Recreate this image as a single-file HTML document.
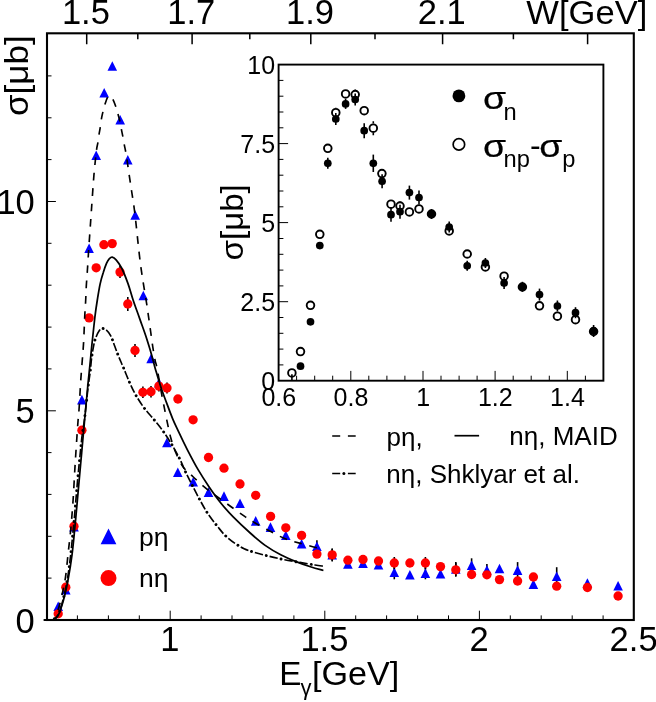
<!DOCTYPE html>
<html><head><meta charset="utf-8"><title>chart</title>
<style>html,body{margin:0;padding:0;background:#fff;overflow:hidden;}svg{display:block;will-change:transform;}</style>
</head><body>
<svg width="656" height="702" viewBox="0 0 656 702">
<rect x="0" y="0" width="656" height="702" fill="#fff"/>
<g stroke="#000" stroke-width="1.6"><path d="M316.9 540.2V552.2"/><path d="M332.2 548.7V560.7"/><path d="M394.3 565.3V579.3"/><path d="M425.4 567.3V579.3"/><path d="M455.8 562.0V576.0"/><path d="M471.6 558.3V572.3"/><path d="M486.9 564.0V576.0"/><path d="M517.6 562.1V578.1"/><path d="M556.7 567.2V585.2"/></g>
<g fill="#0000ff"><path d="M58.2 601.5L63.0 611.1H53.4Z"/><path d="M65.8 584.9L70.6 594.5H61.0Z"/><path d="M74.0 521.8L78.8 531.4H69.2Z"/><path d="M81.9 394.8L86.7 404.4H77.1Z"/><path d="M89.1 243.5L93.9 253.1H84.3Z"/><path d="M96.2 150.4L101.0 160.0H91.4Z"/><path d="M104.2 88.0L109.0 97.6H99.4Z"/><path d="M112.3 61.2L117.1 70.8H107.5Z"/><path d="M120.2 115.0L125.0 124.6H115.4Z"/><path d="M127.8 154.9L132.6 164.5H123.0Z"/><path d="M135.2 210.2L140.0 219.8H130.4Z"/><path d="M143.3 290.7L148.1 300.3H138.5Z"/><path d="M151.1 353.7L155.9 363.3H146.3Z"/><path d="M158.9 377.9L163.7 387.5H154.1Z"/><path d="M166.9 437.7L171.7 447.3H162.1Z"/><path d="M177.8 467.5L182.6 477.1H173.0Z"/><path d="M193.2 477.0L198.0 486.6H188.4Z"/><path d="M208.5 487.3L213.3 496.9H203.7Z"/><path d="M224.0 491.3L228.8 500.9H219.2Z"/><path d="M240.0 498.4L244.8 508.0H235.2Z"/><path d="M255.7 516.1L260.5 525.7H250.9Z"/><path d="M270.5 522.3L275.3 531.9H265.7Z"/><path d="M285.8 530.5L290.6 540.1H281.0Z"/><path d="M301.6 538.9L306.4 548.5H296.8Z"/><path d="M316.9 541.4L321.7 551.0H312.1Z"/><path d="M332.2 549.9L337.0 559.5H327.4Z"/><path d="M347.9 559.2L352.7 568.8H343.1Z"/><path d="M363.0 558.5L367.8 568.1H358.2Z"/><path d="M378.5 560.0L383.3 569.6H373.7Z"/><path d="M394.3 567.5L399.1 577.1H389.5Z"/><path d="M409.9 570.0L414.7 579.6H405.1Z"/><path d="M425.4 568.5L430.2 578.1H420.6Z"/><path d="M440.5 569.0L445.3 578.6H435.7Z"/><path d="M455.8 564.2L460.6 573.8H451.0Z"/><path d="M471.6 560.5L476.4 570.1H466.8Z"/><path d="M486.9 565.2L491.7 574.8H482.1Z"/><path d="M499.5 563.7L504.3 573.3H494.7Z"/><path d="M517.6 565.3L522.4 574.9H512.8Z"/><path d="M533.4 579.3L538.2 588.9H528.6Z"/><path d="M556.7 571.4L561.5 581.0H551.9Z"/><path d="M587.4 578.2L592.2 587.8H582.6Z"/><path d="M618.1 580.9L622.9 590.5H613.3Z"/></g>
<g stroke="#000" stroke-width="1.6"><path d="M120.0 266.1V278.1"/><path d="M127.8 297.0V311.0"/><path d="M135.0 344.0V357.0"/><path d="M142.9 386.5V398.1"/><path d="M151.0 385.9V397.5"/><path d="M158.9 380.6V391.6"/><path d="M167.0 382.5V393.5"/><path d="M332.2 548.4V561.4"/><path d="M394.3 557.0V569.0"/><path d="M425.4 557.0V569.0"/><path d="M455.8 562.8V576.8"/></g>
<g fill="#ff0000"><circle cx="58.2" cy="613.8" r="4.65"/><circle cx="65.8" cy="587.2" r="4.65"/><circle cx="74.0" cy="526.2" r="4.65"/><circle cx="81.9" cy="430.2" r="4.65"/><circle cx="89.1" cy="317.9" r="4.65"/><circle cx="96.2" cy="267.8" r="4.65"/><circle cx="103.9" cy="244.7" r="4.65"/><circle cx="112.2" cy="243.6" r="4.65"/><circle cx="120.0" cy="272.1" r="4.65"/><circle cx="127.8" cy="304.0" r="4.65"/><circle cx="135.0" cy="350.5" r="4.65"/><circle cx="142.9" cy="392.3" r="4.65"/><circle cx="151.0" cy="391.7" r="4.65"/><circle cx="158.9" cy="386.1" r="4.65"/><circle cx="167.0" cy="388.0" r="4.65"/><circle cx="177.9" cy="399.0" r="4.65"/><circle cx="193.1" cy="419.8" r="4.65"/><circle cx="208.5" cy="457.5" r="4.65"/><circle cx="224.0" cy="468.2" r="4.65"/><circle cx="240.0" cy="484.0" r="4.65"/><circle cx="255.7" cy="495.3" r="4.65"/><circle cx="270.6" cy="516.4" r="4.65"/><circle cx="285.8" cy="527.8" r="4.65"/><circle cx="301.6" cy="535.4" r="4.65"/><circle cx="316.9" cy="554.1" r="4.65"/><circle cx="332.2" cy="554.9" r="4.65"/><circle cx="347.9" cy="560.2" r="4.65"/><circle cx="363.0" cy="559.5" r="4.65"/><circle cx="378.5" cy="561.0" r="4.65"/><circle cx="394.3" cy="563.0" r="4.65"/><circle cx="409.9" cy="563.0" r="4.65"/><circle cx="425.4" cy="563.0" r="4.65"/><circle cx="440.5" cy="566.6" r="4.65"/><circle cx="455.8" cy="569.8" r="4.65"/><circle cx="471.6" cy="574.5" r="4.65"/><circle cx="486.9" cy="574.8" r="4.65"/><circle cx="499.5" cy="579.6" r="4.65"/><circle cx="517.6" cy="581.0" r="4.65"/><circle cx="533.4" cy="577.0" r="4.65"/><circle cx="556.7" cy="586.2" r="4.65"/><circle cx="587.4" cy="587.5" r="4.65"/><circle cx="618.1" cy="596.0" r="4.65"/></g>
<g fill="none" stroke="#000" stroke-width="1.65">
<path id="cdashL" d="M53.5 619.6 C54.2 618.0 56.5 614.3 58.0 610.0 C59.5 605.7 61.0 599.4 62.2 594.0 C63.4 588.6 64.4 584.5 65.4 577.8 C66.4 571.1 67.2 562.0 68.1 553.7 C69.0 545.4 70.1 536.8 70.9 527.8 C71.7 518.8 72.3 511.3 73.1 500.0 C73.8 488.7 74.6 472.9 75.4 460.0 C76.2 447.1 77.3 431.0 77.9 422.7 C78.5 414.4 78.5 416.7 79.0 410.0 C79.5 403.3 80.1 390.8 80.6 382.7 C81.1 374.6 81.7 368.1 82.2 361.3 C82.7 354.5 83.2 349.5 83.6 342.1 C84.0 334.7 84.4 323.7 84.7 317.0 C85.0 310.3 85.3 307.2 85.6 302.0 C85.9 296.8 86.0 291.3 86.3 286.0 C86.6 280.7 87.0 276.8 87.4 270.0 C87.9 263.2 88.3 254.9 89.0 245.0 C89.7 235.1 90.6 222.1 91.4 210.5 C92.2 198.9 93.1 185.5 93.9 175.4 C94.8 165.3 95.8 155.6 96.5 150.1 C97.2 144.6 97.5 145.2 97.9 142.6 C98.3 140.0 98.6 137.2 99.0 134.6 C99.4 132.0 99.9 129.7 100.3 127.2 C100.7 124.7 100.9 122.2 101.3 119.7 C101.7 117.2 102.3 114.4 102.9 111.9 C103.5 109.4 104.0 107.1 104.8 104.7 C105.6 102.3 106.7 98.9 107.5 97.3 C108.3 95.7 109.0 94.6 109.9 94.9" stroke-dasharray="7.705 7.705" stroke-dashoffset="4.92"/>
<path id="cdashR" d="M109.9 94.9 C110.8 95.2 111.9 97.3 112.9 99.4 C113.9 101.5 115.3 105.0 116.1 107.4 C116.9 109.8 117.2 111.4 117.9 113.8 C118.6 116.2 119.4 119.2 120.0 121.8 C120.6 124.4 120.9 126.7 121.4 129.3 C121.9 131.9 122.5 134.6 123.0 137.3 C123.5 140.0 123.9 142.7 124.4 145.3 C124.9 147.9 125.3 149.5 125.9 152.8 C126.5 156.2 126.9 159.1 127.8 165.4 C128.7 171.7 130.3 182.6 131.5 190.5 C132.7 198.4 133.3 201.0 134.8 213.0 C136.3 225.0 138.4 247.8 140.3 262.7 C142.2 277.6 145.0 293.0 146.4 302.1 C147.8 311.2 147.9 312.1 148.6 317.1 C149.3 322.1 150.0 327.0 150.7 332.0 C151.4 337.0 152.1 342.4 152.8 347.0 C153.5 351.6 154.4 356.6 155.0 359.8 C155.6 363.0 156.0 363.3 156.6 366.2 C157.2 369.1 157.8 372.6 158.7 377.3 C159.5 382.0 160.7 388.9 161.7 394.4 C162.7 399.9 163.8 405.1 164.8 410.2 C165.8 415.3 166.8 420.2 167.8 424.9 C168.8 429.6 169.7 433.9 170.9 438.3 C172.1 442.7 173.2 446.6 175.2 451.3 C177.2 456.0 180.1 462.5 182.9 466.6 C185.7 470.7 188.7 472.5 192.0 475.7 C195.3 478.9 199.1 482.6 202.7 485.6 C206.3 488.7 209.8 491.3 213.4 494.0 C217.0 496.7 220.4 499.1 224.0 501.6 C227.6 504.2 231.1 506.8 234.7 509.3 C238.3 511.9 242.1 514.6 245.4 516.9 C248.8 519.1 250.7 520.4 254.8 522.8 C258.9 525.2 265.0 528.5 270.1 531.2 C275.2 533.9 280.2 536.8 285.3 538.8 C290.4 540.8 295.2 541.9 300.5 543.4 C305.8 544.9 313.6 547.0 317.3 547.9 C321.0 548.8 321.7 548.8 322.6 549.0" stroke-dasharray="7.736 7.736" stroke-dashoffset="9.97"/>
<path id="csolid" d="M52.4 620.2 C53.3 619.5 56.1 619.1 58.0 615.7 C59.9 612.3 61.8 606.0 63.5 600.0 C65.2 594.0 66.6 587.5 68.0 580.0 C69.4 572.5 70.9 563.7 72.0 555.0 C73.1 546.3 73.9 537.2 74.8 528.0 C75.7 518.8 76.7 508.0 77.4 500.0 C78.1 492.0 78.6 486.7 79.2 480.0 C79.8 473.3 80.4 466.7 81.0 460.0 C81.6 453.3 82.2 447.0 82.8 440.0 C83.4 433.0 84.2 424.7 84.8 418.0 C85.4 411.3 86.0 405.0 86.5 400.0 C87.0 395.0 87.1 392.7 87.6 388.0 C88.0 383.3 88.7 377.5 89.2 372.0 C89.8 366.5 90.4 360.3 90.9 355.0 C91.4 349.7 91.7 346.3 92.4 340.0 C93.1 333.7 94.1 323.8 94.9 317.0 C95.7 310.2 96.5 305.1 97.4 299.5 C98.3 293.9 99.2 288.1 100.2 283.6 C101.2 279.1 102.2 276.0 103.3 272.6 C104.3 269.2 105.5 265.7 106.5 263.4 C107.5 261.1 108.2 259.9 109.2 258.9 C110.2 257.9 111.1 257.0 112.2 257.2 C113.3 257.4 114.5 258.0 116.1 259.8 C117.7 261.6 119.6 264.0 121.6 268.0 C123.6 272.0 126.1 278.3 128.0 283.6 C129.9 288.9 131.2 294.2 133.1 300.0 C135.0 305.8 137.4 312.1 139.5 318.1 C141.6 324.2 144.0 330.4 145.9 336.3 C147.8 342.2 149.6 347.9 151.2 353.4 C152.8 358.9 153.9 364.0 155.5 369.4 C157.1 374.8 158.7 380.3 160.5 385.9 C162.3 391.5 164.6 397.4 166.6 402.9 C168.6 408.4 170.7 413.9 172.7 418.8 C174.7 423.7 176.4 427.0 178.8 432.2 C181.2 437.4 184.2 443.6 187.4 449.8 C190.6 456.0 194.5 463.5 198.1 469.6 C201.7 475.7 205.0 480.8 208.8 486.4 C212.6 492.0 216.9 498.1 221.0 503.2 C225.1 508.3 228.3 511.9 233.2 516.9 C238.1 521.9 244.8 528.2 250.2 533.0 C255.6 537.8 260.4 542.0 265.5 545.6 C270.6 549.2 275.6 552.1 280.7 554.8 C285.8 557.5 290.9 559.6 296.0 561.6 C301.1 563.6 306.6 565.5 311.2 567.0 C315.8 568.5 321.4 569.9 323.4 570.5" stroke-width="1.75"/>
<path id="cdd" d="M52.8 620.0 C53.7 619.2 56.3 618.3 58.0 615.0 C59.7 611.7 61.5 605.9 63.0 600.0 C64.5 594.1 66.0 587.0 67.3 579.6 C68.6 572.2 69.6 564.2 70.6 555.6 C71.6 547.0 72.8 533.8 73.4 527.8 C74.0 521.8 73.7 525.3 74.2 519.7 C74.7 514.1 75.8 501.1 76.4 494.0 C77.0 486.9 77.4 482.2 77.9 477.0 C78.4 471.8 78.8 467.4 79.3 462.7 C79.8 457.9 80.2 453.2 80.7 448.5 C81.2 443.8 81.6 439.3 82.3 434.2 C83.0 429.1 83.7 425.6 84.7 417.7 C85.7 409.8 87.2 394.6 88.1 387.0 C89.0 379.4 89.6 377.1 90.2 372.0 C90.8 366.9 91.1 361.3 91.8 356.5 C92.5 351.7 93.5 346.2 94.2 343.0 C94.9 339.8 95.2 339.2 96.0 337.2 C96.8 335.2 98.2 332.2 99.2 330.8 C100.2 329.4 100.7 328.7 101.8 328.5 C102.9 328.3 104.6 328.5 106.1 329.8 C107.6 331.1 109.0 332.3 110.9 336.2 C112.8 340.1 115.3 348.1 117.4 353.4 C119.5 358.7 121.4 362.8 123.5 367.8 C125.6 372.8 127.9 378.8 130.0 383.4 C132.1 388.0 133.7 391.4 136.1 395.6 C138.5 399.8 141.4 404.3 144.5 408.4 C147.6 412.5 151.3 416.2 154.5 420.2 C157.7 424.2 161.0 428.1 163.9 432.3 C166.8 436.5 169.5 440.8 172.2 445.2 C174.8 449.6 177.5 454.4 179.8 459.0 C182.1 463.6 183.7 468.1 185.9 472.7 C188.1 477.3 190.4 481.7 192.8 486.4 C195.2 491.1 197.9 496.3 200.4 500.9 C202.9 505.5 205.2 509.6 208.0 513.8 C210.8 518.0 214.3 522.4 217.2 526.0 C220.1 529.6 222.2 532.6 225.2 535.5 C228.2 538.4 231.8 541.2 235.0 543.4 C238.2 545.6 240.8 547.2 244.1 548.7 C247.4 550.2 250.6 551.2 254.8 552.5 C259.0 553.8 264.4 555.1 269.3 556.3 C274.2 557.5 279.4 558.7 284.5 559.7 C289.6 560.7 294.7 561.5 299.8 562.4 C304.9 563.3 311.1 564.4 315.0 565.0 C318.9 565.6 322.0 566.0 323.4 566.2" stroke-dasharray="8.4 6.8" stroke-dashoffset="0.25"/>
<path d="M52.8 620.0 C53.7 619.2 56.3 618.3 58.0 615.0 C59.7 611.7 61.5 605.9 63.0 600.0 C64.5 594.1 66.0 587.0 67.3 579.6 C68.6 572.2 69.6 564.2 70.6 555.6 C71.6 547.0 72.8 533.8 73.4 527.8 C74.0 521.8 73.7 525.3 74.2 519.7 C74.7 514.1 75.8 501.1 76.4 494.0 C77.0 486.9 77.4 482.2 77.9 477.0 C78.4 471.8 78.8 467.4 79.3 462.7 C79.8 457.9 80.2 453.2 80.7 448.5 C81.2 443.8 81.6 439.3 82.3 434.2 C83.0 429.1 83.7 425.6 84.7 417.7 C85.7 409.8 87.2 394.6 88.1 387.0 C89.0 379.4 89.6 377.1 90.2 372.0 C90.8 366.9 91.1 361.3 91.8 356.5 C92.5 351.7 93.5 346.2 94.2 343.0 C94.9 339.8 95.2 339.2 96.0 337.2 C96.8 335.2 98.2 332.2 99.2 330.8 C100.2 329.4 100.7 328.7 101.8 328.5 C102.9 328.3 104.6 328.5 106.1 329.8 C107.6 331.1 109.0 332.3 110.9 336.2 C112.8 340.1 115.3 348.1 117.4 353.4 C119.5 358.7 121.4 362.8 123.5 367.8 C125.6 372.8 127.9 378.8 130.0 383.4 C132.1 388.0 133.7 391.4 136.1 395.6 C138.5 399.8 141.4 404.3 144.5 408.4 C147.6 412.5 151.3 416.2 154.5 420.2 C157.7 424.2 161.0 428.1 163.9 432.3 C166.8 436.5 169.5 440.8 172.2 445.2 C174.8 449.6 177.5 454.4 179.8 459.0 C182.1 463.6 183.7 468.1 185.9 472.7 C188.1 477.3 190.4 481.7 192.8 486.4 C195.2 491.1 197.9 496.3 200.4 500.9 C202.9 505.5 205.2 509.6 208.0 513.8 C210.8 518.0 214.3 522.4 217.2 526.0 C220.1 529.6 222.2 532.6 225.2 535.5 C228.2 538.4 231.8 541.2 235.0 543.4 C238.2 545.6 240.8 547.2 244.1 548.7 C247.4 550.2 250.6 551.2 254.8 552.5 C259.0 553.8 264.4 555.1 269.3 556.3 C274.2 557.5 279.4 558.7 284.5 559.7 C289.6 560.7 294.7 561.5 299.8 562.4 C304.9 563.3 311.1 564.4 315.0 565.0 C318.9 565.6 322.0 566.0 323.4 566.2" stroke-width="2.9" stroke-linecap="round" stroke-dasharray="0.01 15.19" stroke-dashoffset="3.65"/>
<path d="M44.4 620.1H53" stroke-width="2" stroke-linecap="round"/>
</g>
<rect x="47.0" y="33.3" width="586.8" height="586.7" fill="none" stroke="#000" stroke-width="2.1"/>
<path d="M77.4 620.0V615.4M108.4 620.0V615.4M139.3 620.0V615.4M170.2 620.0V610.7M201.1 620.0V615.4M232.0 620.0V615.4M263.0 620.0V615.4M293.9 620.0V615.4M324.8 620.0V610.7M355.7 620.0V615.4M386.6 620.0V615.4M417.6 620.0V615.4M448.5 620.0V615.4M479.4 620.0V610.7M510.3 620.0V615.4M541.2 620.0V615.4M572.2 620.0V615.4M603.1 620.0V615.4M47.0 578.1H51.5M47.0 536.3H51.5M47.0 494.4H51.5M47.0 452.6H51.5M47.0 410.8H55.9M47.0 368.9H51.5M47.0 327.1H51.5M47.0 285.2H51.5M47.0 243.3H51.5M47.0 201.5H55.9M47.0 159.6H51.5M47.0 117.8H51.5M47.0 75.9H51.5" stroke="#000" stroke-width="1" fill="none"/>
<path d="M86.7 33.3V44.3M137.8 33.3V39.3M192.1 33.3V44.3M249.8 33.3V39.3M310.8 33.3V44.3M375.0 33.3V39.3M442.6 33.3V44.3M513.4 33.3V39.3M587.6 33.3V44.3" stroke="#000" stroke-width="1.5" fill="none"/>
<g font-family='"Liberation Sans", sans-serif' fill="#000">
<text x="85.9" y="24.4" font-size="34.5" text-anchor="middle">1.5</text>
<text x="191.3" y="24.4" font-size="34.5" text-anchor="middle">1.7</text>
<text x="310.0" y="24.4" font-size="34.5" text-anchor="middle">1.9</text>
<text x="441.8" y="24.4" font-size="34.5" text-anchor="middle">2.1</text>
<text x="647.3" y="24.0" font-size="32.3" text-anchor="end" textLength="121" lengthAdjust="spacingAndGlyphs">W[GeV]</text>
<text x="169.8" y="651.3" font-size="34.5" text-anchor="middle">1</text>
<text x="324.4" y="651.3" font-size="34.5" text-anchor="middle">1.5</text>
<text x="479.0" y="651.3" font-size="34.5" text-anchor="middle">2</text>
<text x="633.6" y="651.3" font-size="34.5" text-anchor="middle">2.5</text>
<text x="34.8" y="632.6" font-size="34.5" text-anchor="end">0</text>
<text x="34.8" y="423.4" font-size="34.5" text-anchor="end">5</text>
<text x="34.8" y="214.1" font-size="34.5" text-anchor="end">10</text>
<text transform="translate(28.3 116.0) rotate(-90) scale(1.075 1)" font-size="32.6">σ[μb]</text>
<text x="279.3" y="685.2" font-size="33.2">E</text>
<text x="300.6" y="694.8" font-size="22">γ</text>
<text transform="translate(311.9 685.2) scale(1.03 1)" font-size="33.2">[GeV]</text>
<text x="138.9" y="545.6" font-size="26.5">pη</text>
<text x="138.9" y="587.4" font-size="26.5">nη</text>
<text x="386.6" y="446.2" font-size="26">pη,</text>
<text x="509.3" y="445.4" font-size="26">nη, MAID</text>
<text x="386.3" y="482.9" font-size="26">nη, Shklyar et al.</text>
</g>
<path d="M108.5 528.4L116.4 544.2H100.6Z" fill="#0000ff"/>
<circle cx="108.5" cy="578.1" r="8.0" fill="#ff0000"/>
<g stroke="#000" stroke-width="1.7" fill="none">
<path d="M332.2 436H340.2M347.9 436H355.7"/>
<path d="M454.5 435.7H479.1"/>
<path d="M332.2 473.5H340.2M347.9 473.5H355.7"/>
</g>
<circle cx="343.9" cy="473.5" r="1.5" fill="#000"/>
<rect x="278.6" y="64.6" width="324.8" height="316.1" fill="#fff" stroke="#000" stroke-width="1.9"/>
<path d="M296.6 380.7V375.7M314.7 380.7V375.7M332.7 380.7V375.7M350.8 380.7V370.9M368.8 380.7V375.7M386.9 380.7V375.7M404.9 380.7V375.7M423.0 380.7V370.9M441.0 380.7V375.7M459.1 380.7V375.7M477.1 380.7V375.7M495.1 380.7V370.9M513.2 380.7V375.7M531.2 380.7V375.7M549.3 380.7V375.7M567.3 380.7V370.9M585.4 380.7V375.7M278.6 364.9H283.4M278.6 349.1H283.4M278.6 333.3H283.4M278.6 317.5H283.4M278.6 301.7H288.1M278.6 285.9H283.4M278.6 270.1H283.4M278.6 254.3H283.4M278.6 238.5H283.4M278.6 222.6H288.1M278.6 206.8H283.4M278.6 191.0H283.4M278.6 175.2H283.4M278.6 159.4H283.4M278.6 143.6H288.1M278.6 127.8H283.4M278.6 112.0H283.4M278.6 96.2H283.4M278.6 80.4H283.4" stroke="#000" stroke-width="1" fill="none"/>
<g font-family='"Liberation Sans", sans-serif' fill="#000" font-size="25.0">
<text x="278.8" y="405.6" text-anchor="middle">0.6</text>
<text x="351.0" y="405.6" text-anchor="middle">0.8</text>
<text x="423.2" y="405.6" text-anchor="middle">1</text>
<text x="495.3" y="405.6" text-anchor="middle">1.2</text>
<text x="567.5" y="405.6" text-anchor="middle">1.4</text>
<text x="275.1" y="389.6" text-anchor="end">0</text>
<text x="275.1" y="310.6" text-anchor="end">2.5</text>
<text x="275.1" y="231.5" text-anchor="end">5</text>
<text x="275.1" y="152.5" text-anchor="end">7.5</text>
<text x="275.1" y="73.5" text-anchor="end">10</text>
</g>
<text transform="translate(242.6 260.4) rotate(-90) scale(1.07 1)" font-family='"Liberation Sans", sans-serif' font-size="30.9">σ[μb]</text>
<g stroke="#000" stroke-width="1.6"><path d="M327.8 157.8V168.8"/><path d="M335.8 113.0V125.0"/><path d="M345.6 98.9V108.9"/><path d="M355.2 93.6V105.6"/><path d="M364.2 123.2V138.2"/><path d="M373.3 154.6V172.0"/><path d="M382.1 174.3V188.3"/><path d="M391.0 207.7V221.7"/><path d="M400.0 204.7V218.7"/><path d="M409.4 185.6V199.6"/><path d="M419.0 190.5V204.5"/><path d="M431.5 209.0V219.0"/><path d="M449.2 221.5V232.5"/><path d="M467.2 260.8V270.8"/><path d="M485.4 258.0V268.0"/><path d="M504.1 277.1V289.1"/><path d="M522.4 281.8V291.8"/><path d="M539.5 288.6V300.6"/><path d="M557.4 300.5V311.5"/><path d="M575.5 307.2V318.2"/><path d="M593.6 325.0V337.0"/><path d="M335.8 107.7V108.1M335.8 117.3V117.7"/><path d="M355.2 89.6V90.0M355.2 99.2V99.6"/><path d="M373.3 121.2V123.6M373.3 132.8V135.2"/><path d="M400.0 201.0V201.4M400.0 210.6V211.0"/><path d="M291.9 374.2V380.7"/></g>
<g fill="#000"><circle cx="300.5" cy="366.2" r="3.85"/><circle cx="310.5" cy="321.8" r="3.85"/><circle cx="319.8" cy="245.6" r="3.85"/><circle cx="327.8" cy="163.3" r="3.85"/><circle cx="335.8" cy="119.0" r="3.85"/><circle cx="345.6" cy="103.9" r="3.85"/><circle cx="355.2" cy="99.6" r="3.85"/><circle cx="364.2" cy="130.7" r="3.85"/><circle cx="373.3" cy="163.3" r="3.85"/><circle cx="382.1" cy="181.3" r="3.85"/><circle cx="391.0" cy="214.7" r="3.85"/><circle cx="400.0" cy="211.7" r="3.85"/><circle cx="409.4" cy="192.6" r="3.85"/><circle cx="419.0" cy="197.5" r="3.85"/><circle cx="431.5" cy="214.0" r="3.85"/><circle cx="449.2" cy="227.0" r="3.85"/><circle cx="467.2" cy="265.8" r="3.85"/><circle cx="485.4" cy="263.0" r="3.85"/><circle cx="504.1" cy="283.1" r="3.85"/><circle cx="522.4" cy="286.8" r="3.85"/><circle cx="539.5" cy="294.6" r="3.85"/><circle cx="557.4" cy="306.0" r="3.85"/><circle cx="575.5" cy="312.7" r="3.85"/><circle cx="593.6" cy="331.0" r="3.85"/></g>
<g fill="none" stroke="#000" stroke-width="1.9"><circle cx="291.9" cy="372.9" r="3.8"/><circle cx="300.5" cy="351.6" r="3.8"/><circle cx="310.5" cy="305.3" r="3.8"/><circle cx="319.8" cy="234.3" r="3.8"/><circle cx="327.8" cy="148.3" r="3.8"/><circle cx="335.8" cy="112.7" r="3.8"/><circle cx="345.6" cy="93.9" r="3.8"/><circle cx="355.2" cy="94.6" r="3.8"/><circle cx="364.2" cy="110.7" r="3.8"/><circle cx="373.3" cy="128.2" r="3.8"/><circle cx="381.9" cy="173.6" r="3.8"/><circle cx="391.0" cy="204.2" r="3.8"/><circle cx="400.0" cy="206.0" r="3.8"/><circle cx="409.4" cy="211.9" r="3.8"/><circle cx="419.0" cy="208.9" r="3.8"/><circle cx="431.5" cy="214.0" r="3.8"/><circle cx="449.2" cy="230.9" r="3.8"/><circle cx="467.2" cy="254.0" r="3.8"/><circle cx="485.4" cy="267.0" r="3.8"/><circle cx="504.1" cy="276.2" r="3.8"/><circle cx="522.4" cy="287.0" r="3.8"/><circle cx="539.5" cy="305.8" r="3.8"/><circle cx="557.4" cy="316.2" r="3.8"/><circle cx="575.5" cy="319.7" r="3.8"/><circle cx="593.6" cy="331.5" r="3.8"/></g>
<circle cx="458.9" cy="95.9" r="6.4" fill="#000"/>
<circle cx="458.9" cy="144.4" r="5.75" fill="none" stroke="#000" stroke-width="1.7"/>
<g font-family='"Liberation Sans", sans-serif' fill="#000">
<text transform="translate(483.0 108.9) scale(1.1 0.94)" font-size="34" stroke="#000" stroke-width="0.25">σ</text>
<text x="503.6" y="119.5" font-size="23.7">n</text>
<text transform="translate(483.0 157.0) scale(1.1 0.94)" font-size="34" stroke="#000" stroke-width="0.25">σ</text>
<text x="503.6" y="167.3" font-size="23.7">np</text>
<text x="530.0" y="156.2" font-size="32">-</text>
<text transform="translate(539.2 157.0) scale(1.1 0.94)" font-size="34" stroke="#000" stroke-width="0.25">σ</text>
<text x="562.3" y="167.3" font-size="23.7">p</text>
</g>
</svg>
</body></html>
